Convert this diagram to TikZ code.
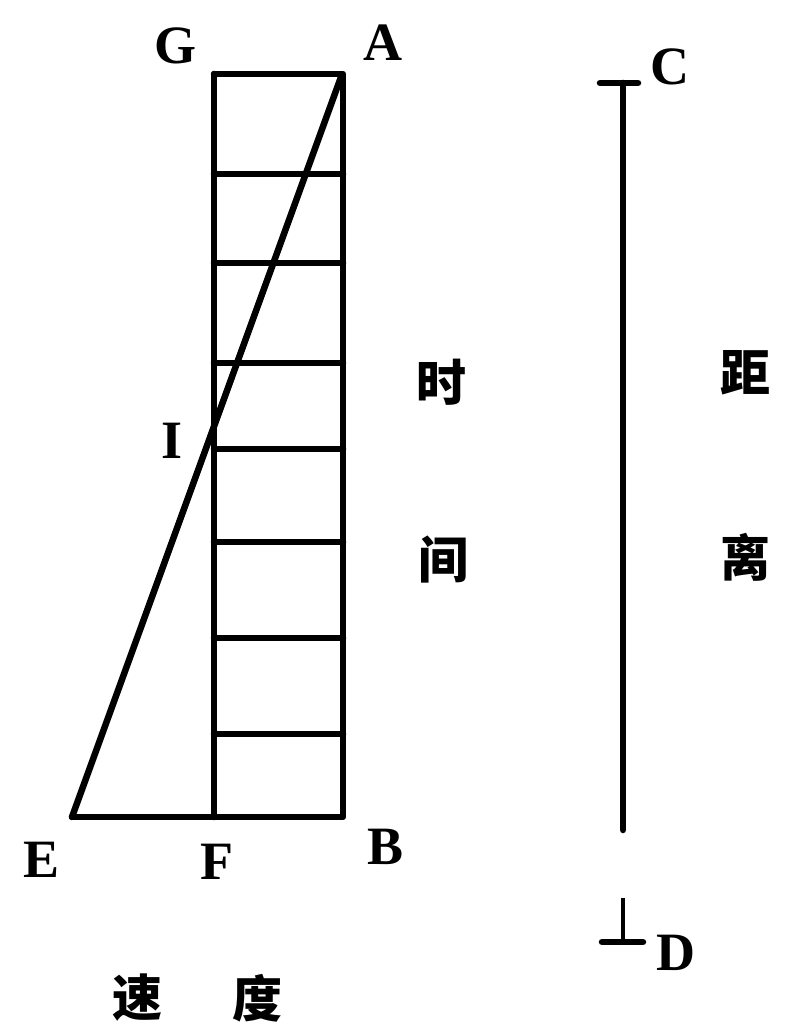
\documentclass[tikz,border=0pt]{standalone}
\usepackage{fontspec}
\setmainfont{Liberation Serif}
\newfontfamily\cjk{Noto Sans CJK SC}
\begin{document}
\begin{tikzpicture}[x=1pt,y=-1pt,
  heavy/.style={line width=6.5pt,line cap=round,line join=round},
  letter/.style={font=\bfseries\fontsize{54}{54}\selectfont,inner sep=0pt},
  hanzi/.style={font=\cjk\bfseries\fontsize{50}{50}\selectfont,inner sep=0pt}]
\useasboundingbox (0,0) rectangle (785,1032);
% rectangle corners
\coordinate (G) at (214,74);
\coordinate (A) at (343,74);
\coordinate (B) at (343,817);
\coordinate (F) at (214,817);
\coordinate (E) at (72,817);
\coordinate (Apex) at (341,77);
% grid
\draw[heavy] (G) -- (A) -- (B) -- (E);
\draw[heavy] (G) -- (F);
\foreach \yy [count=\i] in {174,263,363,449,542,638,734}{
  \coordinate (l\i) at (214,\yy);
  \coordinate (r\i) at (343,\yy);
  \draw[heavy] (l\i) -- (r\i);
}
\draw[heavy] (Apex) -- (E);
% distance line
\coordinate (Ct) at (623,83);
\coordinate (Cl) at (600,83);
\coordinate (Cr) at (638,83);
\coordinate (Gap1) at (623,830);
\coordinate (Gap2) at (623,898);
\coordinate (Dt) at (623,942);
\coordinate (Dl) at (602,942);
\coordinate (Dr) at (643,942);
\draw[heavy] (Cl) -- (Cr);
\draw[heavy] (Ct) -- (Gap1);
\draw[line width=4pt] (Gap2) -- (Dt);
\draw[heavy] (Dl) -- (Dr);
% letters
\node[letter] (lG) at (175,46) {G};
\node[letter] (lA) at (383,43) {A};
\node[letter] (lC) at (670,67) {C};
\node[letter] (lI) at (172,441) {I};
\node[letter] (lE) at (42,860) {E};
\node[letter] (lF) at (217,862) {F};
\node[letter] (lB) at (386,847) {B};
\node[letter] (lD) at (676,953) {D};
% chinese labels
\node[hanzi] (t1) at (441,382) {时};
\node[hanzi] (t2) at (443,560) {间};
\node[hanzi] (d1) at (745,373) {距};
\node[hanzi] (d2) at (745,557) {离};
\node[hanzi] (v1) at (137,998) {速};
\node[hanzi] (v2) at (257,998) {度};
\end{tikzpicture}
\end{document}
